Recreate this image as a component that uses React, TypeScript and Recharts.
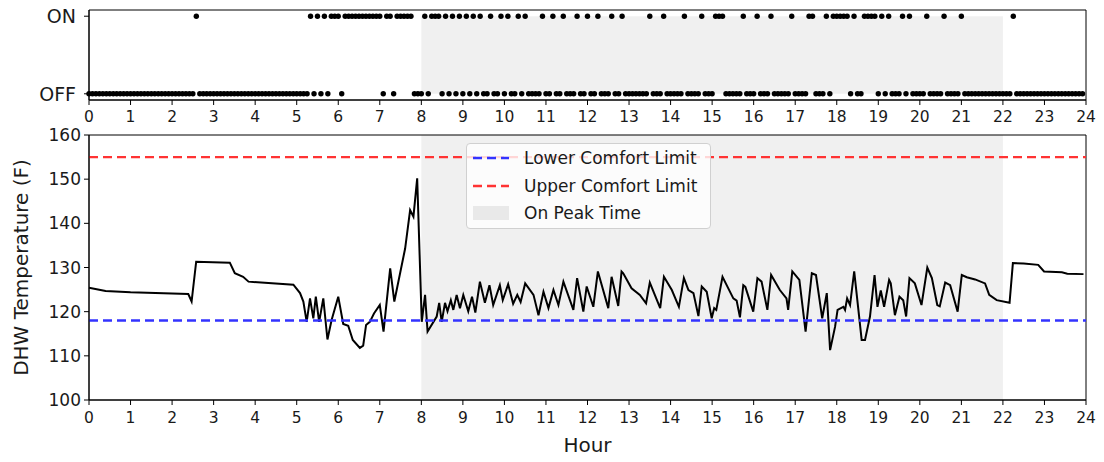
import React from "react"
import {
  ScatterChart,
  Scatter,
  ComposedChart,
  Line,
  XAxis,
  YAxis,
  ReferenceArea,
  ReferenceLine,
} from "recharts"

const hourTicks = [
  0, 1, 2, 3, 4, 5, 6, 7, 8, 9, 10, 11, 12, 13, 14, 15, 16, 17, 18, 19, 20, 21, 22, 23, 24,
]
const stateTicks = [0, 1]
const stateLabels = ["OFF", "ON"]
const tempTicks = [100, 110, 120, 130, 140, 150, 160]

// heater state per 5-minute slot, one string per hour (1 = ON)
const heaterByHour = [
  "000000000000", "000000000000", "000000010000", "000000000000",
  "000000000000", "000010101011", "101111111111", "101101111100",
  "010111010101", "010101001001", "010010100001", "001001000100",
  "100100010010", "000000100010", "000010000100", "011100000100",
  "010001000001", "000011000101", "111101001111", "010100010100",
  "001000010000", "100000000000", "000100000000", "000000000000",
]

// [hour, DHW temperature in F]
const tempReadings: [number, number][] = [
  [0, 125.4], [0.4, 124.7], [1.0, 124.4], [2.39, 124.0], [2.47, 122.3], [2.58, 131.3],
  [3.39, 131.1], [3.51, 128.7], [3.71, 127.9], [3.84, 126.8], [4.92, 126.1], [5.08, 124.2],
  [5.16, 122.3], [5.24, 117.7], [5.32, 123.0], [5.4, 118.5], [5.46, 123.4], [5.54, 117.7],
  [5.64, 123.0], [5.74, 113.7], [5.84, 118.1], [6.0, 123.4], [6.12, 117.2], [6.24, 116.8],
  [6.35, 113.6], [6.52, 111.8], [6.6, 112.3], [6.67, 117.0], [6.76, 117.7], [6.86, 119.6],
  [7.0, 121.5], [7.09, 115.5], [7.25, 129.8], [7.35, 122.3], [7.61, 134.3], [7.73, 143.0],
  [7.81, 141.5], [7.9, 150.2], [8.01, 117.7], [8.09, 123.8], [8.15, 115.5], [8.37, 118.9],
  [8.43, 122.0], [8.49, 117.7], [8.57, 122.0], [8.63, 120.1], [8.71, 122.6], [8.77, 120.4],
  [8.85, 123.8], [8.93, 120.8], [9.01, 123.8], [9.13, 120.1], [9.22, 123.4], [9.3, 119.8],
  [9.41, 126.8], [9.53, 122.0], [9.64, 126.0], [9.73, 121.5], [9.89, 126.0], [9.96, 122.6],
  [10.09, 126.2], [10.21, 121.8], [10.31, 123.8], [10.39, 122.2], [10.5, 126.4], [10.7, 123.8],
  [10.82, 119.2], [10.94, 124.5], [11.06, 120.8], [11.18, 124.9], [11.3, 121.5], [11.42, 126.8],
  [11.66, 120.4], [11.75, 127.6], [11.9, 120.0], [11.98, 125.7], [12.14, 121.1], [12.25, 129.1],
  [12.5, 120.8], [12.58, 127.9], [12.74, 121.3], [12.82, 129.1], [12.86, 128.7], [13.06, 125.3],
  [13.26, 123.8], [13.41, 121.9], [13.5, 126.6], [13.75, 120.8], [13.84, 127.9], [14.03, 124.9],
  [14.2, 121.1], [14.32, 127.6], [14.43, 124.9], [14.55, 124.2], [14.67, 119.0], [14.75, 125.7],
  [14.87, 124.5], [14.99, 118.5], [15.05, 120.8], [15.1, 120.4], [15.25, 127.9], [15.51, 123.0],
  [15.59, 122.5], [15.67, 118.7], [15.75, 126.0], [15.8, 125.6], [15.99, 120.0], [16.09, 127.6],
  [16.19, 126.8], [16.33, 120.4], [16.42, 128.3], [16.63, 124.9], [16.79, 123.0], [16.83, 120.4],
  [16.93, 129.1], [17.1, 127.2], [17.25, 115.5], [17.4, 128.7], [17.5, 128.3], [17.65, 118.5],
  [17.76, 124.2], [17.84, 111.3], [17.96, 116.6], [18.02, 120.4], [18.16, 121.1], [18.2, 120.4],
  [18.25, 123.0], [18.32, 121.5], [18.42, 129.1], [18.6, 113.6], [18.68, 113.6], [18.8, 118.9],
  [18.91, 128.3], [18.98, 121.1], [19.06, 124.8], [19.14, 121.1], [19.26, 127.2], [19.3, 126.4],
  [19.4, 119.2], [19.51, 123.4], [19.6, 122.6], [19.67, 118.9], [19.75, 127.6], [19.88, 126.4],
  [20.04, 121.5], [20.18, 130.0], [20.29, 127.6], [20.42, 121.5], [20.48, 121.2], [20.61, 126.6],
  [20.73, 126.0], [20.91, 120.0], [21.01, 128.3], [21.13, 127.8], [21.33, 127.3], [21.57, 126.4],
  [21.67, 123.8], [21.85, 122.6], [22.16, 122.0], [22.24, 131.0], [22.5, 130.9], [22.85, 130.6],
  [22.99, 129.1], [23.42, 128.9], [23.55, 128.6], [23.94, 128.5],
]

const lowerLimit = 118
const upperLimit = 155
const peakStart = 8
const peakEnd = 22

const heaterPoints = heaterByHour.flatMap((row, h) =>
  row.split("").map((c, i) => ({ hour: h + i / 12, state: Number(c) }))
)
const tempData = tempReadings.map(([hour, temp]) => ({ hour, temp }))

const textColor = "#1a1a1a"
const shadeColor = "#f0f0f0"
const lowerColor = "#3333ff"
const upperColor = "#ff3333"

const HeaterDot = (props: any) => (
  <circle cx={props.cx} cy={props.cy} r={2.7} fill="#000" />
)

const legendItems = [
  { label: "Lower Comfort Limit", kind: "line", color: lowerColor },
  { label: "Upper Comfort Limit", kind: "line", color: upperColor },
  { label: "On Peak Time", kind: "patch", color: "#e9e9e9" },
]

function LegendBox() {
  return (
    <div
      style={{
        position: "absolute",
        left: 466,
        top: 143,
        width: 245,
        height: 86,
        background: "rgba(255,255,255,0.8)",
        border: "1px solid #d0d0d0",
        borderRadius: 4,
        boxSizing: "border-box",
      }}
    >
      {legendItems.map((item, i) => (
        <div
          key={item.label}
          style={{
            position: "absolute",
            left: 6,
            top: 3 + i * 27.5,
            height: 22,
            display: "flex",
            alignItems: "center",
          }}
        >
          <svg width={36} height={22}>
            {item.kind === "line" ? (
              <line
                x1={0}
                x2={36}
                y1={11}
                y2={11}
                stroke={item.color}
                strokeWidth={2.4}
                strokeDasharray="9 5"
              />
            ) : (
              <rect x={0} y={4} width={36} height={14} fill={item.color} />
            )}
          </svg>
          <span
            style={{
              marginLeft: 15,
              fontSize: 17,
              color: textColor,
              whiteSpace: "nowrap",
            }}
          >
            {item.label}
          </span>
        </div>
      ))}
    </div>
  )
}

export default function App() {
  return (
    <div
      style={{
        position: "absolute",
        left: 0,
        top: 0,
        width: 1104,
        height: 462,
        background: "#fff",
        fontFamily: "'DejaVu Sans', sans-serif",
      }}
    >
      <div style={{ position: "absolute", left: 0, top: 0 }}>
        <ScatterChart
          width={1104}
          height={130}
          margin={{ top: 10, right: 18, bottom: 5, left: 0 }}
        >
          <XAxis
            type="number"
            dataKey="hour"
            domain={[0, 24]}
            ticks={hourTicks}
            interval={0}
            tickSize={5}
            tickMargin={6}
            height={25}
            stroke="#000"
            tick={{ fontSize: 15.5, fill: textColor }}
          />
          <YAxis
            type="number"
            dataKey="state"
            domain={[-0.08, 1.08]}
            ticks={stateTicks}
            tickFormatter={(v: number) => stateLabels[v]}
            width={89}
            tickSize={5}
            tickMargin={8}
            stroke="#000"
            tick={{ fontSize: 19, fill: textColor }}
          />
          <ReferenceArea
            x1={peakStart}
            x2={peakEnd}
            y1={0}
            y2={1}
            fill={shadeColor}
            fillOpacity={1}
            stroke="none"
          />
          <Scatter
            data={heaterPoints}
            shape={HeaterDot}
            isAnimationActive={false}
          />
          <ReferenceArea
            x1={0}
            x2={24}
            y1={-0.08}
            y2={1.08}
            fill="none"
            stroke="#000"
            strokeWidth={1}
          />
        </ScatterChart>
      </div>

      <div style={{ position: "absolute", left: 0, top: 120 }}>
        <ComposedChart
          width={1104}
          height={342}
          data={tempData}
          margin={{ top: 15, right: 18, bottom: 0, left: 0 }}
        >
          <XAxis
            type="number"
            dataKey="hour"
            domain={[0, 24]}
            ticks={hourTicks}
            interval={0}
            tickSize={5}
            tickMargin={7}
            height={62}
            stroke="#000"
            tick={{ fontSize: 15.5, fill: textColor }}
            label={{
              value: "Hour",
              position: "insideBottom",
              offset: 10,
              style: { fontSize: 20, fill: textColor },
            }}
          />
          <YAxis
            type="number"
            domain={[100, 160]}
            ticks={tempTicks}
            width={89}
            tickSize={5}
            tickMargin={3}
            stroke="#000"
            tick={{ fontSize: 17, fill: textColor }}
            label={{
              value: "DHW Temperature (F)",
              angle: -90,
              position: "insideLeft",
              offset: 21,
              style: { textAnchor: "middle", fontSize: 20, fill: textColor },
            }}
          />
          <ReferenceArea
            x1={peakStart}
            x2={peakEnd}
            y1={100}
            y2={160}
            fill={shadeColor}
            fillOpacity={1}
            stroke="none"
          />
          <Line
            type="linear"
            dataKey="temp"
            stroke="#000"
            strokeWidth={2}
            dot={false}
            isAnimationActive={false}
          />
          <ReferenceLine
            y={lowerLimit}
            stroke={lowerColor}
            strokeWidth={2.4}
            strokeDasharray="9 5"
          />
          <ReferenceLine
            y={upperLimit}
            stroke={upperColor}
            strokeWidth={2.4}
            strokeDasharray="9 5"
          />
          <ReferenceArea
            x1={0}
            x2={24}
            y1={100}
            y2={160}
            fill="none"
            stroke="#000"
            strokeWidth={1}
          />
        </ComposedChart>
      </div>

      <LegendBox />
    </div>
  )
}
